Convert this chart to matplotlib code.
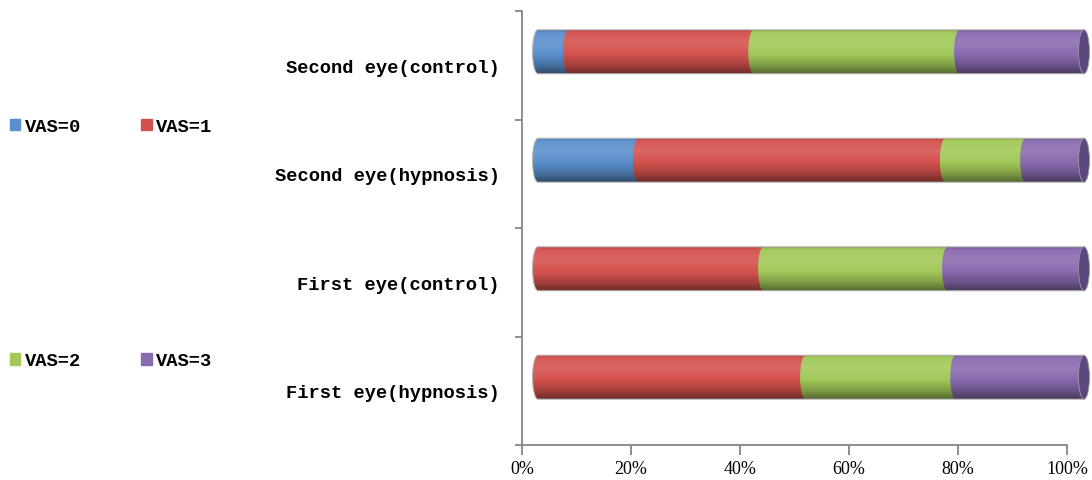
import numpy as np
import matplotlib.pyplot as plt
import matplotlib.patches as mpatches
from matplotlib.path import Path

# categories from top to bottom
categories = ["Second eye(control)", "Second eye(hypnosis)",
              "First eye(control)", "First eye(hypnosis)"]
series_names = ["VAS=0", "VAS=1", "VAS=2", "VAS=3"]

# percentage of patients per VAS score
vas0 = [5.6, 18.4, 0.0, 0.0]
vas1 = [33.9, 56.2, 41.3, 49.0]
vas2 = [37.7, 14.7, 33.7, 27.5]
vas3 = [22.8, 10.7, 25.0, 23.5]

x_ticks = [0, 20, 40, 60, 80, 100]
x_tick_labels = ["0%", "20%", "40%", "60%", "80%", "100%"]

colors = ["#5a8fcc", "#d4524e", "#a2c95a", "#8a6bb0"]
cap_colors = ["#3c6290", "#8e3633", "#6c8a3a", "#5c4880"]

W, H = 1092, 481
fig = plt.figure(figsize=(W / 100, H / 100), dpi=100)

# frame axes: holds the ticks and labels
ax = fig.add_axes([522 / W, 35 / H, 545 / W, 434 / H])

# bar axes: shifted right/up to mimic the 3D depth offset
x0_px, px_per_unit = 538, 5.46
xmin, xmax = -2, 102
axb = fig.add_axes([(x0_px + xmin * px_per_unit) / W, 48.5 / H,
                    (xmax - xmin) * px_per_unit / W, 434 / H])
axb.patch.set_alpha(0)
axb.axis("off")

y = np.arange(len(categories))[::-1]
bar_h = 0.405
cap_w = 2.0

left = np.zeros(len(categories))
for vals, c, name in zip([vas0, vas1, vas2, vas3], colors, series_names):
    vals = np.array(vals)
    axb.barh(y, vals, left=left, height=bar_h, color=c, lw=0, zorder=2)
    # rounded (elliptic) left edge of each cylinder segment
    for yi, l, v in zip(y, left, vals):
        if v > 0:
            axb.add_patch(mpatches.Ellipse((l, yi), cap_w, bar_h, color=c,
                                           lw=0, zorder=2))
    left += vals

# cylinder shading: highlight near the top, dark towards the bottom
t = np.linspace(0, 1, 120)
shade = np.interp(t, [0, 0.06, 0.3, 0.55, 0.8, 1.0],
                  [-0.15, 0.04, 0.12, 0.0, -0.22, -0.48])
img = np.zeros((len(t), 1, 4))
img[:, 0, :3] = (shade > 0)[:, None] * 1.0
img[:, 0, 3] = np.abs(shade)

theta = np.linspace(0, np.pi, 40)
for i, yi in enumerate(y):
    total = left[i]
    top, bot = yi + bar_h / 2, yi - bar_h / 2
    arc_x = -cap_w / 2 * np.sin(theta)
    arc_y = yi - bar_h / 2 * np.cos(theta)
    verts = np.vstack([[[0, top], [total, top], [total, bot]],
                       np.column_stack([arc_x, arc_y]), [[0, top]]])
    outline = mpatches.PathPatch(Path(verts, closed=True), facecolor="none",
                                 edgecolor="#b4b4b4", lw=0.8, zorder=3.5)
    axb.add_patch(outline)
    im = axb.imshow(img, extent=(-cap_w, total, bot, top), aspect="auto",
                    interpolation="bilinear", zorder=3)
    im.set_clip_path(outline)
    # end face of the cylinder
    axb.add_patch(mpatches.Ellipse((total, yi), cap_w, bar_h,
                                   facecolor=cap_colors[-1],
                                   edgecolor="#9a9a9a", lw=0.6, zorder=4))

axb.set_xlim(xmin, xmax)
axb.set_ylim(-0.5, len(categories) - 0.5)

# frame styling
grey = "#868686"
ax.set_xlim(0, 100)
ax.set_ylim(-0.5, len(categories) - 0.5)
for s in ["top", "right"]:
    ax.spines[s].set_visible(False)
for s in ["left", "bottom"]:
    ax.spines[s].set_color(grey)
    ax.spines[s].set_linewidth(1.3)

ax.set_xticks(x_ticks)
ax.set_xticklabels(x_tick_labels, family="Liberation Serif", fontsize=13)
ax.tick_params(axis="x", length=7, width=1.3, color=grey, pad=4)

ax.set_yticks(y)
ax.set_yticklabels(categories, family="Liberation Mono", fontsize=13.5,
                   fontweight="bold")
ax.tick_params(axis="y", which="major", length=0, pad=16)
ax.set_yticks(np.arange(-0.5, len(categories)), minor=True)
ax.tick_params(axis="y", which="minor", length=5, width=1.3, color=grey)

# legend in two rows at the far left
handles = [mpatches.Patch(color=c) for c in colors]
order = [0, 2, 1, 3]
fig.legend([handles[i] for i in order], [series_names[i] for i in order],
           loc="upper left", bbox_to_anchor=(10 / W, 1 - 119 / H), ncol=2,
           frameon=False, prop={"family": "Liberation Mono", "size": 13.5,
                                "weight": "bold"},
           handlelength=0.55, handleheight=0.55, handletextpad=0.25,
           columnspacing=3.2, labelspacing=11.6, borderpad=0, borderaxespad=0)

fig.savefig("out.png", dpi=100)
